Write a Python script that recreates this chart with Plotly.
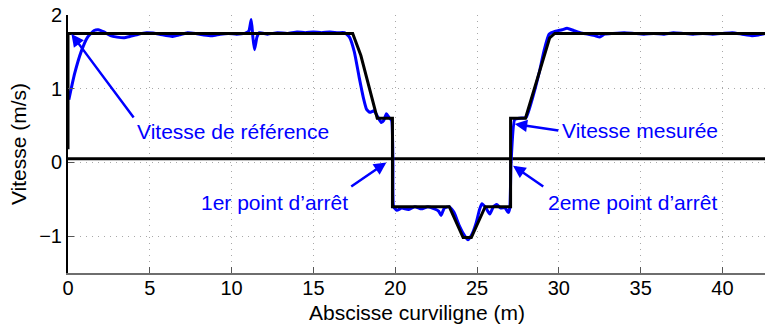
import plotly.graph_objects as go

# Reference speed profile (black)
ref_x = [0, 0, 17.4, 17.9, 18.9, 19.83, 19.83, 23.3, 24.15, 24.65, 25.5, 27.05, 27.05, 27.96, 29.44, 29.75, 45]
ref_y = [0.18, 1.75, 1.75, 1.45, 0.6, 0.6, -0.6, -0.6, -1.02, -1.02, -0.6, -0.6, 0.6, 0.6, 1.69, 1.75, 1.75]

# Measured speed (blue)
mes_x = [0.05, 0.4, 0.8, 1.2, 1.6, 1.85, 2.2, 2.6, 3.0, 3.4, 3.8, 4.3, 4.8, 5.2, 5.6, 6.0, 6.4,
         6.8, 7.3, 7.8, 8.3, 8.8, 9.3, 9.8, 10.3, 10.8, 11.05, 11.2, 11.3, 11.4, 11.55, 11.7,
         12.2, 12.8, 13.4, 14.0, 14.5, 15.0, 15.5, 16.0, 16.5, 16.9, 17.2, 17.5, 17.8, 18.05,
         18.25, 18.45, 18.7, 18.9, 19.15, 19.3, 19.46, 19.62, 19.78, 19.86, 19.9, 20.1, 20.4,
         20.8, 21.2, 21.6, 22.0, 22.4, 22.65, 22.8, 23.0, 23.3, 23.6, 23.9, 24.2, 24.45, 24.7,
         24.96, 25.15, 25.3, 25.55, 25.78, 26.0, 26.2, 26.45, 26.7, 26.9, 27.0, 27.08, 27.3,
         27.6, 28.0, 28.4, 28.8, 29.1, 29.4, 29.8, 30.2, 30.5, 30.9, 31.3, 31.8, 32.2, 32.5,
         32.8, 33.3, 34.0, 34.6, 35.2, 35.8, 36.4, 37.0, 37.6, 38.2, 38.8, 39.4, 40.0, 40.6,
         41.2, 41.8, 42.2, 42.6]
mes_y = [0.85, 1.2, 1.5, 1.7, 1.79, 1.80, 1.77, 1.72, 1.70, 1.69, 1.71, 1.74, 1.76, 1.755, 1.74,
         1.72, 1.71, 1.73, 1.76, 1.75, 1.73, 1.72, 1.74, 1.75, 1.74, 1.75, 1.78, 1.94, 1.70,
         1.53, 1.70, 1.76, 1.74, 1.76, 1.75, 1.77, 1.76, 1.77, 1.76, 1.77, 1.76, 1.76, 1.70,
         1.50, 1.15, 0.88, 0.72, 0.68, 0.70, 0.63, 0.54, 0.57, 0.66, 0.61, 0.57, 0.0, -0.6,
         -0.65, -0.62, -0.64, -0.60, -0.63, -0.60, -0.63, -0.66, -0.72, -0.62, -0.60, -0.68,
         -0.85, -0.98, -1.05, -0.97, -0.81, -0.64, -0.56, -0.62, -0.70, -0.60, -0.57, -0.62,
         -0.61, -0.68, -0.62, 0.0, 0.58, 0.60, 0.61, 0.88, 1.22, 1.52, 1.74, 1.78, 1.80, 1.82,
         1.79, 1.76, 1.74, 1.72, 1.70, 1.74, 1.75, 1.76, 1.75, 1.74, 1.75, 1.74, 1.76, 1.75,
         1.74, 1.75, 1.74, 1.75, 1.76, 1.74, 1.72, 1.73, 1.75]

threshold_x = [0, 45]
threshold_y = [0.05, 0.05]

x_ticks = [0, 5, 10, 15, 20, 25, 30, 35, 40]
y_ticks = [-1, 0, 1, 2]

BLUE = "#0000ff"
FONT = "Liberation Sans, Arial, Helvetica, sans-serif"

fig = go.Figure()
fig.add_trace(go.Scatter(x=threshold_x, y=threshold_y, mode="lines",
                         line=dict(color="black", width=3), hoverinfo="skip"))
fig.add_trace(go.Scatter(x=mes_x, y=mes_y, mode="lines",
                         line=dict(color=BLUE, width=3, shape="spline", smoothing=0.45)))
fig.add_trace(go.Scatter(x=ref_x, y=ref_y, mode="lines",
                         line=dict(color="black", width=3)))

grid = dict(showgrid=True, gridcolor="#a8a8a8", gridwidth=1, griddash="1px,5px",
            zeroline=False, ticks="inside", ticklen=6, tickcolor="#555555",
            tickfont=dict(size=20, family=FONT, color="black"), automargin=False)

fig.update_xaxes(range=[0, 42.6], tickvals=x_ticks, showline=True, linecolor="#6e6e6e",
                 linewidth=2, ticklabelstandoff=-4, **grid)
fig.update_yaxes(range=[-1.5, 2], tickvals=y_ticks, showline=True, linecolor="black",
                 linewidth=2, title=dict(text="Vitesse (m/s)",
                                         font=dict(size=21, family=FONT), standoff=7), **grid)

# x-axis title placed precisely below the tick labels
fig.add_annotation(x=0.5, y=-0.152, xref="paper", yref="paper", text="Abscisse curviligne (m)",
                   showarrow=False, xanchor="center", yanchor="middle",
                   font=dict(size=21, family=FONT, color="black"))

arrows = [
    ((0.21, 1.742), (4.08, 0.589)),
    ((27.3, 0.521), (30.06, 0.43)),
    ((19.46, 0.0), (17.22, -0.34)),
    ((27.2, -0.045), (29.14, -0.34)),
]
for (tx, ty), (sx, sy) in arrows:
    fig.add_annotation(x=tx, y=ty, ax=sx, ay=sy, xref="x", yref="y", axref="x", ayref="y",
                       text="", showarrow=True, arrowhead=2, arrowsize=1, arrowwidth=2.5,
                       arrowcolor=BLUE, standoff=0, startstandoff=0)

labels = [
    ("Vitesse de référence", 4.08, 0.417, "left"),
    ("Vitesse mesurée", 30.06, 0.43, "left"),
    ("1er point d’arrêt", 17.22, -0.543, "right"),
    ("2eme point d’arrêt", 29.24, -0.543, "left"),
]
for txt, lx, ly, anc in labels:
    fig.add_annotation(x=lx, y=ly, xref="x", yref="y", text=txt, showarrow=False,
                       xanchor=anc, yanchor="middle",
                       font=dict(size=21, family=FONT, color=BLUE))

fig.update_layout(width=765, height=327, margin=dict(l=68, r=0, t=15, b=54),
                  plot_bgcolor="white", paper_bgcolor="white", showlegend=False,
                  font=dict(family=FONT, size=20, color="black"))

fig.write_html("out.html", config={"displayModeBar": False},
               post_script="document.body.style.margin='0';document.body.style.padding='0';")
